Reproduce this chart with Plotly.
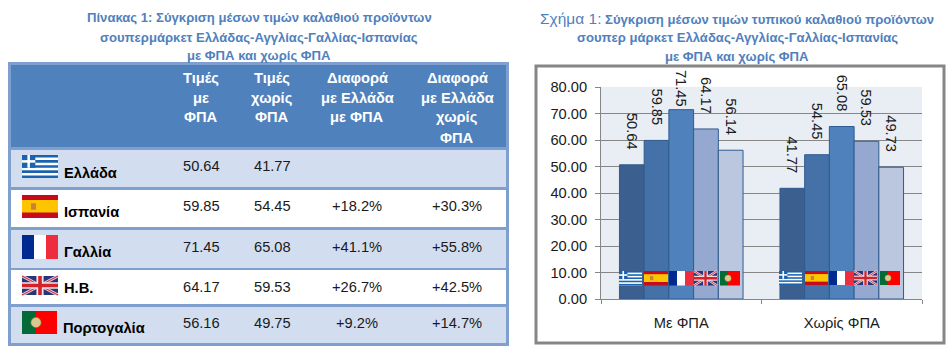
import plotly.graph_objects as go

W, H = 951, 352

# ---- data ----
table_title = ["Πίνακας 1: Σύγκριση μέσων τιμών καλαθιού προϊόντων",
               "σουπερμάρκετ Ελλάδας-Αγγλίας-Γαλλίας-Ισπανίας",
               "με ΦΠΑ και χωρίς ΦΠΑ"]
chart_title_head = "Σχήμα 1:"
chart_title = [" Σύγκριση μέσων τιμών τυπικού καλαθιού προϊόντων",
               "σουπερ μάρκετ Ελλάδας-Αγγλίας-Γαλλίας-Ισπανίας",
               "με ΦΠΑ και χωρίς ΦΠΑ"]
headers = [["Τιμές", "με", "ΦΠΑ"], ["Τιμές", "χωρίς", "ΦΠΑ"],
           ["Διαφορά", "με Ελλάδα", "με ΦΠΑ"], ["Διαφορά", "με Ελλάδα", "χωρίς", "ΦΠΑ"]]
countries = ["Ελλάδα", "Ισπανία", "Γαλλία", "Η.Β.", "Πορτογαλία"]
t_with = ["50.64", "59.85", "71.45", "64.17", "56.16"]
t_without = ["41.77", "54.45", "65.08", "59.53", "49.75"]
t_diff_with = ["", "+18.2%", "+41.1%", "+26.7%", "+9.2%"]
t_diff_without = ["", "+30.3%", "+55.8%", "+42.5%", "+14.7%"]

groups = ["Με ΦΠΑ", "Χωρίς ΦΠΑ"]
greece = [50.64, 41.77]
spain = [59.85, 54.45]
france = [71.45, 65.08]
uk = [64.17, 59.53]
portugal = [56.14, 49.73]
bar_colors = ["#3B5F8E", "#4472A8", "#4F81BD", "#95A9D0", "#BAC7DF"]

FONT = "Liberation Sans, Arial, sans-serif"
NB = "\u00a0"
def bar_label(v):
    # labels float about 12px above the bars, except the tallest, which would leave the panel
    return f"{v:.2f}" + ("" if v > 70 else NB * 3)

fig = go.Figure()
for name, vals, col in zip(countries, [greece, spain, france, uk, portugal], bar_colors):
    fig.add_bar(x=groups, y=vals, name=name, marker=dict(color=col, line=dict(color="#2F5C8F", width=1)),
                text=[bar_label(v) for v in vals], textposition="outside", textangle=90, constraintext="none",
                textfont=dict(family=FONT, size=14.67, color="#1a1a1a"), cliponaxis=False)

shapes, annos = [], []
def fx(x): return x / W
def fy(y): return 1 - y / H
def rect(x0, y0, x1, y1, fill, line=None, lw=0, layer="below"):
    shapes.append(dict(type="rect", xref="paper", yref="paper", x0=fx(x0), x1=fx(x1), y0=fy(y0), y1=fy(y1),
                       fillcolor=fill, line=dict(color=line or fill, width=lw), layer=layer))
def seg(x0, y0, x1, y1, col, lw, layer="above"):
    shapes.append(dict(type="line", xref="paper", yref="paper", x0=fx(x0), x1=fx(x1), y0=fy(y0), y1=fy(y1),
                       line=dict(color=col, width=lw), layer=layer))
def text(x, y, s, size=14.67, col="#1a1a1a", bold=False, anchor="center"):
    annos.append(dict(xref="paper", yref="paper", x=fx(x), y=fy(y), text=f"<b>{s}</b>" if bold else s,
                      showarrow=False, xanchor=anchor, yanchor="middle",
                      font=dict(family=FONT, size=size, color=col), borderpad=0))

def flag(kind, x0, y0, x1, y1):
    w, h = x1 - x0, y1 - y0
    if kind == 0:
        blue, n = "#1B63AE", 9
        rect(x0, y0, x1, y1, "#FFFFFF", layer="above")
        for i in range(0, n, 2):
            rect(x0, y0 + h * i / n, x1, y0 + h * (i + 1) / n, blue, layer="above")
        rect(x0, y0, x0 + w * .37, y0 + h * 5 / 9, blue, layer="above")
        rect(x0 + w * .15, y0, x0 + w * .22, y0 + h * 5 / 9, "#FFFFFF", layer="above")
        rect(x0, y0 + h * 2 / 9, x0 + w * .37, y0 + h * 3 / 9, "#FFFFFF", layer="above")
    elif kind == 1:
        rect(x0, y0, x1, y1, "#C60B1E", layer="above")
        rect(x0, y0 + h * .22, x1, y0 + h * .76, "#FFC400", layer="above")
        rect(x0 + w * .25, y0 + h * .36, x0 + w * .39, y0 + h * .64, "#C8803A", layer="above")
    elif kind == 2:
        rect(x0, y0, x0 + w / 3, y1, "#002A8F", layer="above")
        rect(x0 + w / 3, y0, x0 + 2 * w / 3, y1, "#FFFFFF", layer="above")
        rect(x0 + 2 * w / 3, y0, x1, y1, "#EE2E3E", layer="above")
    elif kind == 3:
        rect(x0, y0, x1, y1, "#27357A", layer="above")
        th = max(h * .16, 2)
        seg(x0, y0, x1, y1, "#F2D8DC", th); seg(x0, y1, x1, y0, "#F2D8DC", th)
        seg(x0, y0, x1, y1, "#D2334A", th * .4); seg(x0, y1, x1, y0, "#D2334A", th * .4)
        rect(x0, y0 + h * .33, x1, y0 + h * .67, "#F5E3E6", layer="above")
        rect(x0 + w * .40, y0, x0 + w * .60, y1, "#F5E3E6", layer="above")
        rect(x0, y0 + h * .41, x1, y0 + h * .59, "#D2232A", layer="above")
        rect(x0 + w * .45, y0, x0 + w * .55, y1, "#D2232A", layer="above")
    else:
        rect(x0, y0, x0 + w * .4, y1, "#046A38", layer="above")
        rect(x0 + w * .4, y0, x1, y1, "#FF0000", layer="above")
        cx, cy, r = x0 + w * .4, (y0 + y1) / 2, h * .22
        shapes.append(dict(type="circle", xref="paper", yref="paper", x0=fx(cx - r), x1=fx(cx + r),
                           y0=fy(cy + r), y1=fy(cy - r), fillcolor="#D9C98F",
                           line=dict(color="#B08A30", width=0.5), layer="above"))

# ---- table (left) ----
rect(8, 62, 509, 346, "#7F9FCF")
rect(11, 65, 506, 147, "#4F81BD")
row_bands = [(150, 187, "#D2DEEF"), (190, 227, "#FFFFFF"), (230, 268, "#D2DEEF"),
             (270, 304, "#FFFFFF"), (307, 343, "#D2DEEF")]
for y0, y1, c in row_bands:
    rect(11, y0, 506, y1, c)
for i, s in enumerate(table_title):
    text(259, [17, 37, 55][i], s, size=13.1, col="#4F81BD", bold=True)
col_x = [201, 272, 357, 457]
for cx, lines in zip(col_x, headers):
    for i, s in enumerate(lines):
        text(cx, 77.5 + 20 * i, s, size=14.67, col="#FFFFFF", bold=True)
val_y = [166, 206, 247, 287, 323]
lab_y = [173, 212, 252, 288, 328]
lab_x = [63, 63, 63, 63, 61.5]
flag_boxes = [(22, 155, 58, 178), (22, 195, 58, 218), (22, 235, 58, 259), (22, 276, 58, 295), (22, 311, 57, 334)]
for i, c in enumerate(countries):
    text(lab_x[i], lab_y[i], c, bold=True, col="#000000", anchor="left")
    flag(i, *flag_boxes[i])
    for cx, column in zip(col_x, [t_with, t_without, t_diff_with, t_diff_without]):
        if column[i]:
            text(cx, val_y[i], column[i])

# ---- chart panel (right) ----
rect(536, 66, 944, 343, "rgba(0,0,0,0)", line="#868686", lw=3)
head = f'<span style="font-size:15.5px;">{chart_title_head}</span>'
annos.append(dict(xref="paper", yref="paper", x=fx(737), y=fy(19), showarrow=False, xanchor="center", yanchor="middle",
                  text=f"{head}<b>{chart_title[0]}</b>", font=dict(family=FONT, size=13.1, color="#4F81BD")))
text(737, 38, chart_title[1], size=13.1, col="#4F81BD", bold=True)
text(737, 57, chart_title[2], size=13.1, col="#4F81BD", bold=True)
for k, bx in enumerate([(619, 642), (644, 668), (669, 693), (694, 717), (720, 740)]):
    flag(k, bx[0], 271, bx[1], 285.5)
for k, bx in enumerate([(779, 802), (805, 828), (829, 853), (854, 877), (880, 900)]):
    flag(k, bx[0], 271, bx[1], 285)

fig.update_layout(
    width=W, height=H, margin=dict(l=0, r=0, t=0, b=0, autoexpand=False), paper_bgcolor="#FFFFFF", plot_bgcolor="#E9EDF4",
    barmode="group", bargap=0.23, bargroupgap=0, showlegend=False, shapes=shapes, annotations=annos,
    font=dict(family=FONT, size=14.67, color="#1a1a1a"),
    xaxis=dict(domain=[fx(601), fx(922)], showgrid=False, ticks="outside", ticklen=4, tickcolor="#868686",
               showline=True, linecolor="#868686", linewidth=1, tickson="boundaries", ticklabelstandoff=10,
               tickfont=dict(family=FONT, size=14.67, color="#1a1a1a")),
    yaxis=dict(domain=[fy(299), fy(87)], range=[0, 80], tickvals=list(range(0, 81, 10)), tickformat=".2f",
               gridcolor="#868686", gridwidth=1, ticks="outside", ticklen=5, tickcolor="#868686",
               showline=True, linecolor="#868686", linewidth=1, zeroline=False, ticklabelstandoff=5,
               tickfont=dict(family=FONT, size=14.67, color="#1a1a1a")),
)
fig.write_html("out.html", config=dict(displayModeBar=False),
               post_script="document.body.style.margin='0';")
